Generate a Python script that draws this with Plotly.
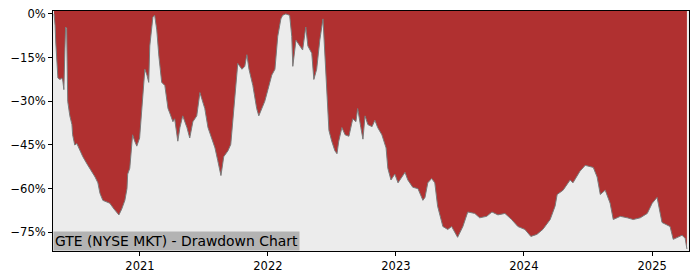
import plotly.graph_objects as go

dates = [
"2020-05-01","2020-05-04","2020-05-06","2020-05-09","2020-05-12","2020-05-18","2020-05-23","2020-05-26","2020-05-29",
"2020-06-01","2020-06-03","2020-06-06","2020-06-09","2020-06-15","2020-06-21","2020-06-23","2020-06-29",
"2020-07-05","2020-07-14","2020-07-22","2020-08-03","2020-08-11","2020-08-26","2020-09-03","2020-09-09",
"2020-09-17","2020-09-29","2020-10-07","2020-10-19","2020-10-27","2020-11-02","2020-11-10","2020-11-19",
"2020-11-25","2020-11-27","2020-12-03","2020-12-11","2020-12-17","2020-12-23","2020-12-31",
"2021-01-09","2021-01-15","2021-01-21","2021-01-26","2021-01-29","2021-02-04","2021-02-07","2021-02-12",
"2021-02-18","2021-02-24","2021-03-04","2021-03-13","2021-03-22","2021-03-27","2021-04-05","2021-04-10",
"2021-04-19","2021-04-25","2021-05-03","2021-05-15","2021-05-23","2021-06-01","2021-06-12","2021-06-21",
"2021-06-26","2021-07-05","2021-07-14","2021-07-25","2021-08-03","2021-08-11","2021-08-20","2021-08-28",
"2021-09-09","2021-09-17","2021-09-23","2021-10-02","2021-10-07","2021-10-19","2021-10-27","2021-11-02",
"2021-11-08","2021-11-19","2021-11-30","2021-12-06","2021-12-15","2021-12-23",
"2022-01-01","2022-01-12","2022-01-21","2022-01-29","2022-02-07","2022-02-12","2022-02-21","2022-03-04",
"2022-03-10","2022-03-13","2022-03-22","2022-04-02","2022-04-10","2022-04-19","2022-04-25","2022-05-06",
"2022-05-12","2022-05-20","2022-05-29","2022-06-07","2022-06-12","2022-06-18","2022-06-24","2022-07-02",
"2022-07-11","2022-07-17","2022-07-22","2022-07-31","2022-08-09","2022-08-20","2022-08-31","2022-09-09",
"2022-09-14","2022-09-23","2022-09-29","2022-10-05","2022-10-13","2022-10-25","2022-11-02","2022-11-10",
"2022-11-22","2022-12-04","2022-12-09","2022-12-18","2022-12-29",
"2023-01-07","2023-01-18","2023-01-27","2023-02-04","2023-02-18","2023-03-05","2023-03-19","2023-03-25",
"2023-04-02","2023-04-13","2023-04-22","2023-04-30","2023-05-15","2023-05-29","2023-06-09","2023-06-26",
"2023-07-11","2023-07-25","2023-08-14","2023-08-28","2023-09-17","2023-10-02","2023-10-19","2023-11-08",
"2023-11-27","2023-12-15",
"2024-01-04","2024-01-21","2024-02-07","2024-02-24","2024-03-16","2024-03-30","2024-04-05","2024-04-22",
"2024-05-12","2024-05-20","2024-06-09","2024-06-24","2024-07-17","2024-07-28","2024-08-06","2024-08-20",
"2024-09-03","2024-09-12","2024-10-02","2024-10-22","2024-11-08","2024-11-28","2024-12-18",
"2025-01-01","2025-01-15","2025-01-29","2025-02-21","2025-03-02","2025-03-13","2025-03-27","2025-04-05","2025-04-10",
]

drawdown = [
0,-4,-10,-16,-22,-22.5,-22,-23,-26,
-12,-4.5,-5,-30,-35,-38,-41.5,-45,
-44.5,-47,-49,-51.5,-53,-56,-58,-61.6,
-64,-64.5,-65,-67,-68,-69,-67,-64,
-60,-55,-53,-41.5,-43.7,-45.4,-42.6,
-30,-19,-21,-23.5,-11,-3,-1,-0.5,
-5.5,-14.5,-23.5,-24.6,-32.5,-34,-37,-36,
-43.7,-39,-35,-39,-42.6,-37,-35,-27,
-29,-32.5,-39,-42.6,-46,-50.4,-55.5,-49,
-47,-44.8,-37,-24.6,-17,-19,-18,-14,
-19,-24.6,-32.5,-35,-32.5,-30,
-26,-21,-19,-7.7,-1.7,-0.5,0,-0.5,
-7.7,-18,-9,-11,-12.4,-4.5,-11,-13.5,
-22.5,-19,-9,-1.7,-13.5,-30,-40,-43.7,
-47,-48,-43.7,-39,-41.5,-42,-36,-37,
-32.5,-39,-43,-35,-38,-38.7,-36.5,-39,
-41.5,-46,-53,-57,-55,
-58,-56,-54.4,-57,-59.5,-60,-64,-63,
-58,-56.5,-58,-66,-73,-74,-73,-76.7,
-73,-68,-68.5,-70,-69.5,-68,-69,-68.5,
-70.6,-73,
-74,-76.4,-75.7,-74,-70.6,-66,-62,-60.5,
-57,-58,-54,-52,-52.7,-56,-62,-60.5,
-65,-70.6,-69.5,-70,-70.6,-70,-68.5,
-65,-63,-71.6,-73,-77.4,-76.7,-76,-77,-80.7,
]

y_ticks = [0, -15, -30, -45, -60, -75]
y_tick_labels = ["0%", "\u221215%", "\u221230%", "\u221245%", "\u221260%", "\u221275%"]
x_ticks = ["2021-01-01", "2022-01-01", "2023-01-01", "2024-01-01", "2025-01-01"]
x_tick_labels = ["2021", "2022", "2023", "2024", "2025"]
title_text = "GTE (NYSE MKT) - Drawdown Chart"

y_top = 1.0
y_bottom = -81.4

fig = go.Figure()
fig.add_trace(go.Scatter(
    x=dates, y=drawdown, mode="lines",
    line=dict(color="#7a7a7a", width=1), hoverinfo="skip", showlegend=False,
))
fig.add_trace(go.Scatter(
    x=dates, y=[y_top] * len(dates), mode="lines",
    line=dict(color="#b03030", width=0), fill="tonexty", fillcolor="#b03030",
    hoverinfo="skip", showlegend=False,
))

axis_font = dict(family="DejaVu Sans", size=11.5, color="#000000")
fig.update_layout(
    width=700, height=280,
    margin=dict(l=53, r=11, t=7, b=28),
    paper_bgcolor="white", plot_bgcolor="#ececec",
    xaxis=dict(
        range=["2020-04-28", "2025-04-16"], tickvals=x_ticks, ticktext=x_tick_labels,
        showgrid=False, zeroline=False, showline=True, linecolor="black", linewidth=1,
        mirror=True, ticks="outside", ticklen=4, tickcolor="black", tickfont=axis_font,
    ),
    yaxis=dict(
        range=[y_bottom, y_top], tickvals=y_ticks, ticktext=y_tick_labels,
        showgrid=False, zeroline=False, showline=True, linecolor="black", linewidth=1,
        mirror=True, ticks="outside", ticklen=4, tickcolor="black", tickfont=axis_font,
    ),
    annotations=[dict(
        text=title_text, xref="paper", yref="paper", x=0, y=0,
        xanchor="left", yanchor="bottom", showarrow=False,
        font=dict(family="DejaVu Sans", size=13.9, color="#000000"),
        bgcolor="#b3b3b3", borderpad=1,
    )],
)

fig.write_html("out.html")
